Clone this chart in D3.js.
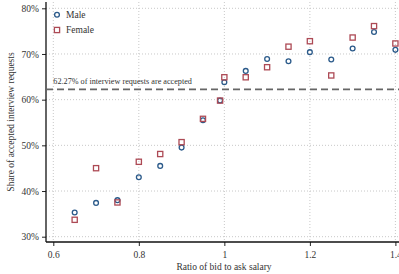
<!DOCTYPE html>
<html>
<head>
<meta charset="utf-8">
<script src="https://cdn.jsdelivr.net/npm/d3@7"></script>
<style>
  body { margin: 0; background: #fff; }
  svg text { font-family: "Liberation Serif", "DejaVu Serif", serif; fill: #333; }
</style>
</head>
<body>
<div id="chart"></div>
<script>
// bid/ask ratio bins and acceptance shares (%)
const ratios = [0.65, 0.7, 0.75, 0.8, 0.85, 0.9, 0.95, 0.99, 1.0, 1.05, 1.1, 1.15, 1.2, 1.25, 1.3, 1.35, 1.4];
const male =   [35.3, 37.4, 38.0, 43.0, 45.5, 49.5, 55.5, 59.8, 63.8, 66.3, 68.9, 68.4, 70.4, 68.8, 71.2, 74.8, 70.9];
const female = [33.7, 45.0, 37.5, 46.4, 48.1, 50.7, 55.8, 59.8, 64.9, 64.9, 67.1, 71.6, 72.8, 65.3, 73.6, 76.1, 72.3];
const xTicks = [0.6, 0.8, 1, 1.2, 1.4];
const yTicks = [30, 40, 50, 60, 70, 80];
const avgShare = 62.27;

let width = 399, height = 274,
    plot = { left: 46, right: 399, top: 2, bottom: 242 };

const svg = d3.select("#chart").append("svg")
    .attr("width", width)
    .attr("height", height);

let x = d3.scaleLinear().domain([0.6, 1.4]).range([53.3, 395.4]);
let y = d3.scaleLinear().domain([30, 80]).range([236.7, 8.3]);

// grid
svg.append("g").selectAll("line").data(xTicks).join("line")
    .attr("x1", d => x(d)).attr("x2", d => x(d))
    .attr("y1", plot.top).attr("y2", plot.bottom)
    .attr("stroke", "#c8c8c8").attr("stroke-dasharray", "1,2");
svg.append("g").selectAll("line").data(yTicks).join("line")
    .attr("x1", plot.left).attr("x2", plot.right)
    .attr("y1", d => y(d)).attr("y2", d => y(d))
    .attr("stroke", "#c8c8c8").attr("stroke-dasharray", "1,2");

// axes
const xAxis = svg.append("g")
    .attr("transform", `translate(0,${plot.bottom})`)
    .call(d3.axisBottom(x).tickValues(xTicks).tickSize(4).tickSizeOuter(0).tickFormat(d3.format("")));
const yAxis = svg.append("g")
    .attr("transform", `translate(${plot.left},0)`)
    .call(d3.axisLeft(y).tickValues(yTicks).tickSize(4).tickSizeOuter(0).tickFormat(d => d + "%"));
for (let g of [xAxis, yAxis]) {
    g.select(".domain").remove();
    g.selectAll("text").style("font-size", "9.5px").attr("fill", "#333");
    g.selectAll(".tick line").attr("stroke", "#222");
}
xAxis.selectAll("text").attr("dy", "0.95em");
svg.append("line").attr("x1", plot.left).attr("x2", plot.right).attr("y1", plot.bottom).attr("y2", plot.bottom)
    .attr("stroke", "#111").attr("stroke-width", 1.3);
svg.append("line").attr("x1", plot.left).attr("x2", plot.left).attr("y1", plot.top).attr("y2", plot.bottom)
    .attr("stroke", "#111").attr("stroke-width", 1.3);

// average line
svg.append("line")
    .attr("x1", plot.left).attr("x2", plot.right)
    .attr("y1", y(avgShare)).attr("y2", y(avgShare))
    .attr("stroke", "#666").attr("stroke-width", 1.8).attr("stroke-dasharray", "7,4");
svg.append("text")
    .attr("x", 53.3).attr("y", y(avgShare) - 5)
    .style("font-size", "8.2px")
    .text(`${avgShare}% of interview requests are accepted`);

const blue = "#2b5a8a", red = "#ad4a55";

// points
svg.append("g").selectAll("circle").data(ratios).join("circle")
    .attr("cx", d => x(d)).attr("cy", (d, i) => y(male[i]))
    .attr("r", 2.4).attr("fill", "none").attr("stroke", blue).attr("stroke-width", 1.3);
svg.append("g").selectAll("rect").data(ratios).join("rect")
    .attr("x", d => x(d) - 2.6).attr("y", (d, i) => y(female[i]) - 2.6)
    .attr("width", 5.2).attr("height", 5.2)
    .attr("fill", "none").attr("stroke", red).attr("stroke-width", 1.3);

// legend
svg.append("circle").attr("cx", 57).attr("cy", 14.7).attr("r", 2.4)
    .attr("fill", "none").attr("stroke", blue).attr("stroke-width", 1.3);
svg.append("text").attr("x", 66).attr("y", 18).style("font-size", "9.5px").text("Male");
svg.append("rect").attr("x", 54.4).attr("y", 27.4).attr("width", 5.2).attr("height", 5.2)
    .attr("fill", "none").attr("stroke", red).attr("stroke-width", 1.3);
svg.append("text").attr("x", 66).attr("y", 33).style("font-size", "9.5px").text("Female");

// axis titles
svg.append("text")
    .attr("x", 224).attr("y", 269.5)
    .attr("text-anchor", "middle")
    .style("font-size", "9.5px")
    .text("Ratio of bid to ask salary");
svg.append("text")
    .attr("transform", `translate(14,${(plot.top + plot.bottom) / 2}) rotate(-90)`)
    .attr("text-anchor", "middle")
    .style("font-size", "9.5px")
    .text("Share of accepted interview requests");
</script>
</body>
</html>
